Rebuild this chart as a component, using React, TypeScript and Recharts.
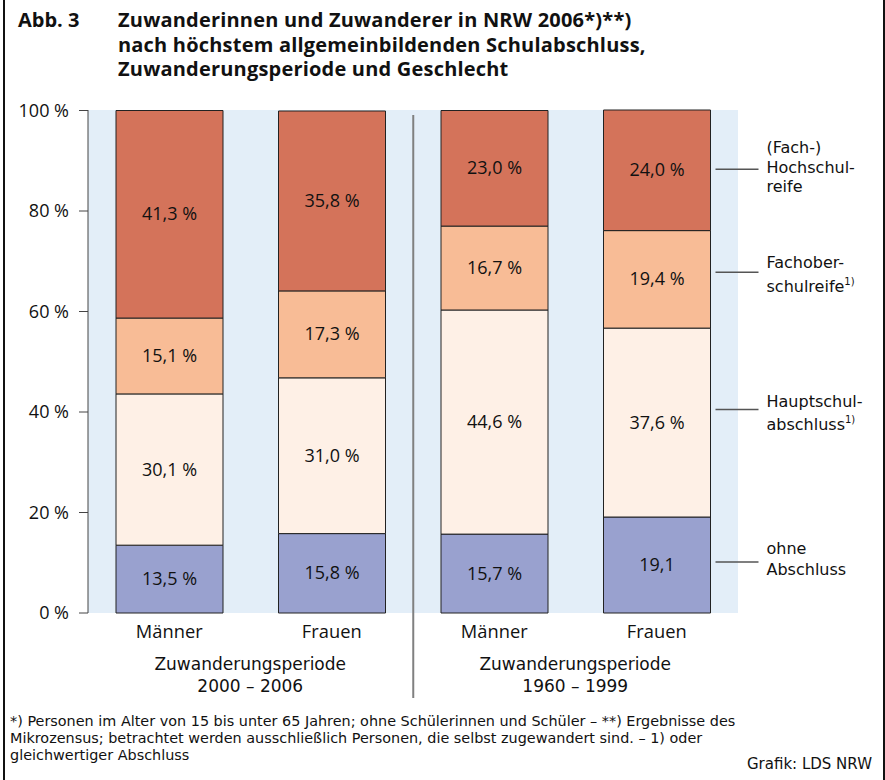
import { BarChart, Bar, XAxis, YAxis, CartesianGrid, LabelList } from 'recharts'

const categories = ['Männer', 'Frauen', 'Männer', 'Frauen']
const periods = ['Zuwanderungsperiode|2000 – 2006', '', 'Zuwanderungsperiode|1960 – 1999', '']

const ohneAbschluss = [13.5, 15.8, 15.7, 19.1]
const hauptschul = [30.1, 31.0, 44.6, 37.6]
const fachober = [15.1, 17.3, 16.7, 19.4]
const hochschul = [41.3, 35.8, 23.0, 24.0]

const yTicks = [0, 20, 40, 60, 80, 100]

const data = categories.map((c, i) => ({
  id: `c${i}`,
  name: c,
  period: periods[i],
  ohne: ohneAbschluss[i],
  haupt: hauptschul[i],
  fachober: fachober[i],
  hoch: hochschul[i],
}))

const FONT = '"Open Sans", "DejaVu Sans", sans-serif'
// tighter line metrics for the stacked multi-line texts
const SMALL_FONT = '"DejaVu Sans", sans-serif'

// series, bottom to top; legend text is drawn next to the last bar
const SERIES = [
  { key: 'ohne', color: '#99A1CF', legend: ['ohne', 'Abschluss'], lineDy: -3, textDy: [-14, 7], noPct: [3] },
  { key: 'haupt', color: '#FEF0E6', legend: ['Hauptschul-', 'abschluss|1)'], lineDy: -13, textDy: [-9, 14], noPct: [] },
  { key: 'fachober', color: '#F8BC96', legend: ['Fachober-', 'schulreife|1)'], lineDy: -7, textDy: [-10, 14], noPct: [] },
  { key: 'hoch', color: '#D4735A', legend: ['(Fach-)', 'Hochschul-', 'reife'], lineDy: -1, textDy: [-22, -2, 17], noPct: [] },
]

const fmt = (v: number) => v.toFixed(1).replace('.', ',')

function makeLabel(s: (typeof SERIES)[number]) {
  return (props: any) => {
    const { x, y, width, height, index, value } = props
    const cx = x + width / 2
    const cy = y + height / 2
    const txt = s.noPct.includes(index) ? fmt(Number(value)) : `${fmt(Number(value))} %`
    return (
      <g>
        <text x={cx} y={cy} dy={6} textAnchor="middle" fontSize={18} fill="#111" fontFamily={FONT}>
          {txt}
        </text>
        {index === 3 && (
          <g>
            <line x1={x + width + 5} x2={x + width + 48} y1={cy + s.lineDy} y2={cy + s.lineDy} stroke="#555" strokeWidth={1.5} />
            {s.legend.map((l, k) => {
              const [main, sup] = l.split('|')
              return (
                <text key={k} x={x + width + 56} y={cy + s.lineDy + s.textDy[k]} dy={6} fontSize={16} fill="#111" fontFamily={SMALL_FONT}>
                  {main}
                  {sup && (
                    <tspan fontSize={10} dy={-7}>
                      {sup}
                    </tspan>
                  )}
                </text>
              )
            })}
          </g>
        )}
      </g>
    )
  }
}

function XTick(props: any) {
  const { x, y, index } = props
  const row = data[index]
  const [p1, p2] = row.period ? row.period.split('|') : []
  return (
    <g fill="#111">
      <text x={x} y={y + 25} textAnchor="middle" fontSize={18.3} fill="#111" fontFamily={FONT}>
        {row.name}
      </text>
      {p1 && (
        <g fontFamily={SMALL_FONT}>
          <text x={x + 81} y={y + 57} textAnchor="middle" fontSize={17} fill="#111">
            {p1}
          </text>
          <text x={x + 81} y={y + 79} textAnchor="middle" fontSize={17} fill="#111">
            {p2}
          </text>
        </g>
      )}
      {index === 2 && <line x1={x - 81} x2={x - 81} y1={y - 498} y2={y + 85} stroke="#808080" strokeWidth={2} />}
    </g>
  )
}

export default function App() {
  return (
    <div style={{ position: 'absolute', left: 0, top: 0, width: 885, height: 780, background: '#fff', fontFamily: FONT, color: '#111' }}>
      <div style={{ position: 'absolute', left: 3, top: 0, width: 878, height: 780, borderLeft: '2px solid #111', borderRight: '2px solid #111' }} />
      <div style={{ position: 'absolute', left: 18, top: 8, fontSize: 20, fontWeight: 700, lineHeight: '24.5px' }}>Abb. 3</div>
      <div style={{ position: 'absolute', left: 118, top: 8, fontSize: 20, fontWeight: 700, lineHeight: '24.5px', letterSpacing: 0.2 }}>
        Zuwanderinnen und Zuwanderer in NRW 2006*)**)
        <br />
        nach höchstem allgemeinbildenden Schulabschluss,
        <br />
        Zuwanderungsperiode und Geschlecht
      </div>

      <div style={{ position: 'absolute', left: 0, top: 0 }}>
        <BarChart width={885} height={780} data={data} margin={{ top: 110, right: 147, bottom: 137, left: 8 }} barSize={107}>
          <CartesianGrid fill="#E3EEF8" horizontal={false} vertical={false} stroke="none" />
          <XAxis dataKey="id" axisLine={false} tickLine={false} tickSize={0} tickMargin={0} height={30} interval={0} tick={<XTick />} />
          <YAxis
            domain={[0, 100]}
            ticks={yTicks}
            width={80}
            tickSize={9}
            tickMargin={10}
            tickFormatter={(v) => `${v} %`}
            axisLine={{ stroke: '#444' }}
            tickLine={{ stroke: '#444' }}
            tick={{ fontSize: 18, fill: '#111', fontFamily: FONT }}
          />
          {SERIES.map((s) => (
            <Bar key={s.key} dataKey={s.key} stackId="a" fill={s.color} stroke="#222" strokeWidth={1} isAnimationActive={false}>
              <LabelList dataKey={s.key} content={makeLabel(s)} />
            </Bar>
          ))}
        </BarChart>
      </div>

      <div style={{ position: 'absolute', left: 10, top: 713, width: 800, fontFamily: SMALL_FONT, fontSize: 14.4, lineHeight: '17px' }}>
        *) Personen im Alter von 15 bis unter 65 Jahren; ohne Schülerinnen und Schüler – **) Ergebnisse des
        <br />
        Mikrozensus; betrachtet werden ausschließlich Personen, die selbst zugewandert sind. – 1) oder
        <br />
        gleichwertiger Abschluss
      </div>
      <div style={{ position: 'absolute', right: 13, top: 756, fontFamily: SMALL_FONT, fontSize: 15, lineHeight: '17px' }}>Grafik: LDS NRW</div>
    </div>
  )
}
